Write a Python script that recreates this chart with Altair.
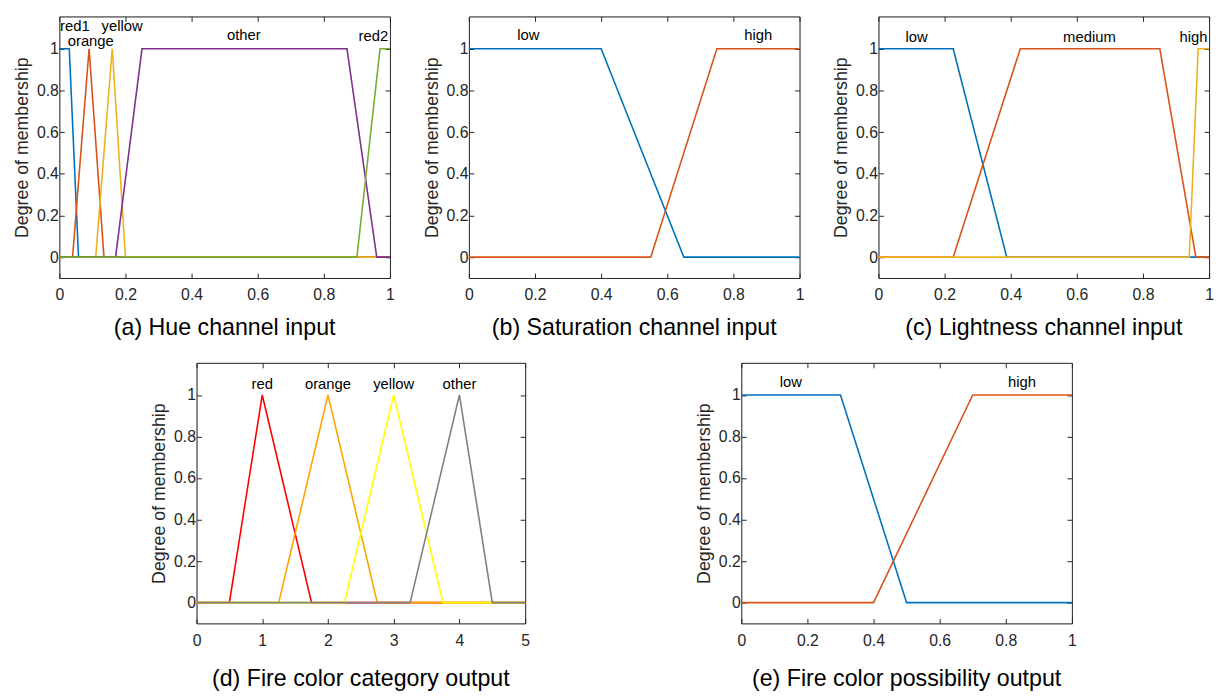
import altair as alt
import pandas as pd

FONT = "Liberation Sans"
INK = "#262626"

# ---------------- data ----------------
# (a) Hue channel input
hue_names = ["red1", "orange", "yellow", "other", "red2"]
hue_colors = ["#0072BD", "#D95319", "#EDB120", "#7E2F8E", "#77AC30"]
hue_x = [
    [0, 0.03, 0.058, 1],
    [0, 0.04, 0.09, 0.135, 1],
    [0, 0.11, 0.16, 0.2, 1],
    [0, 0.17, 0.25, 0.87, 0.96, 1],
    [0, 0.90, 0.97, 1],
]
hue_y = [
    [1, 1, 0, 0],
    [0, 0, 1, 0, 0],
    [0, 0, 1, 0, 0],
    [0, 0, 1, 1, 0, 0],
    [0, 0, 1, 1],
]
hue_lab_x = [0.047, 0.095, 0.19, 0.558, 0.95]
hue_lab_y = [1.085, 1.012, 1.085, 1.04, 1.035]

# (b) Saturation channel input
sat_names = ["low", "high"]
sat_colors = ["#0072BD", "#D95319"]
sat_x = [[0, 0.4, 0.65, 1], [0, 0.55, 0.75, 1]]
sat_y = [[1, 1, 0, 0], [0, 0, 1, 1]]
sat_lab_x = [0.18, 0.875]
sat_lab_y = [1.04, 1.04]

# (c) Lightness channel input
lig_names = ["low", "medium", "high"]
lig_colors = ["#0072BD", "#D95319", "#EDB120"]
lig_x = [[0, 0.226, 0.388, 1], [0, 0.226, 0.429, 0.851, 0.96, 1], [0, 0.94, 0.967, 1]]
lig_y = [[1, 1, 0, 0], [0, 0, 1, 1, 0, 0], [0, 0, 1, 1]]
lig_lab_x = [0.115, 0.638, 0.953]
lig_lab_y = [1.033, 1.033, 1.033]

# (d) Fire color category output
cat_names = ["red", "orange", "yellow", "other"]
cat_colors = ["#FF0000", "#FFA500", "#FFFF00", "#808080"]
cat_x = [[0, 0.5, 1, 1.75, 5], [0, 1.25, 2, 2.75, 5], [0, 2.25, 3, 3.75, 5], [0, 3.25, 4, 4.5, 5]]
cat_y = [[0, 0, 1, 0, 0]] * 4
cat_lab_x = [1, 2, 3, 4]
cat_lab_y = [1.03, 1.03, 1.03, 1.03]

# (e) Fire color possibility output
pos_names = ["low", "high"]
pos_colors = ["#0072BD", "#D95319"]
pos_x = [[0, 0.3, 0.5, 1], [0, 0.4, 0.7, 1]]
pos_y = [[1, 1, 0, 0], [0, 0, 1, 1]]
pos_lab_x = [0.15, 0.849]
pos_lab_y = [1.04, 1.04]

y_ticks = [0, 0.2, 0.4, 0.6, 0.8, 1]
x_ticks_unit = [0, 0.2, 0.4, 0.6, 0.8, 1]
x_ticks_cat = [0, 1, 2, 3, 4, 5]
Y_DOMAIN = [-0.1, 1.155]

INWARD = {"expr": "-5"}


def panel(names, colors, xs, ys, lab_x, lab_y, xdom, xticks, caption, w, h, cap_off):
    xscale = alt.Scale(domain=xdom, nice=False, zero=False)
    yscale = alt.Scale(domain=Y_DOMAIN, nice=False, zero=False)
    xaxis = alt.Axis(values=xticks, title=None, grid=False, tickSize=INWARD,
                     labelPadding=14, labelFontSize=16, labelFont=FONT,
                     labelColor=INK, domainColor=INK, tickColor=INK,
                     labelFlush=False, format="~g")
    yaxis = alt.Axis(values=y_ticks, title="Degree of membership", grid=False,
                     tickSize=INWARD, labelPadding=6, labelFontSize=16,
                     labelFont=FONT, labelColor=INK, domainColor=INK,
                     tickColor=INK, titleFont=FONT, titleFontSize=18,
                     titleFontWeight="normal", titleColor=INK, titlePadding=5,
                     format="~g")
    layers = []
    for k, (nm, col, xx, yy) in enumerate(zip(names, colors, xs, ys)):
        df = pd.DataFrame({"x": xx, "y": yy, "i": list(range(len(xx)))})
        layers.append(
            alt.Chart(df).mark_line(color=col, strokeWidth=1.6).encode(
                x=alt.X("x:Q", scale=xscale, axis=xaxis if k == 0 else None),
                y=alt.Y("y:Q", scale=yscale, axis=yaxis if k == 0 else None),
                order="i:Q",
            )
        )
    lab_df = pd.DataFrame({"x": lab_x, "y": lab_y, "t": names})
    layers.append(
        alt.Chart(lab_df).mark_text(fontSize=15, font=FONT, color="black",
                                    baseline="alphabetic", align="center").encode(
            x=alt.X("x:Q", scale=xscale, axis=None),
            y=alt.Y("y:Q", scale=yscale, axis=None),
            text="t:N",
        )
    )
    # top / right inward ticks (box axes)
    box_df = pd.DataFrame({"x": [xdom[0], xdom[1]], "y": [0, 1]})
    layers.append(
        alt.Chart(box_df).mark_point(opacity=0).encode(
            x=alt.X("x:Q", scale=xscale,
                    axis=alt.Axis(orient="top", values=xticks, labels=False,
                                  title=None, grid=False, tickSize=INWARD,
                                  domainColor=INK, tickColor=INK)),
            y=alt.Y("y:Q", scale=yscale,
                    axis=alt.Axis(orient="right", values=y_ticks, labels=False,
                                  title=None, grid=False, tickSize=INWARD,
                                  domainColor=INK, tickColor=INK)),
        )
    )
    return alt.layer(*layers).resolve_axis(x="independent", y="independent").properties(
        width=w, height=h,
        title=alt.TitleParams(caption, orient="bottom", fontSize=23.5, font=FONT,
                              fontWeight="normal", color="black", offset=cap_off,
                              anchor="middle"),
    )


W = 335
H1 = 265
H2 = 264
pa = panel(hue_names, hue_colors, hue_x, hue_y, hue_lab_x, hue_lab_y, [0, 1],
           x_ticks_unit, "(a) Hue channel input", W, H1, 14)
pb = panel(sat_names, sat_colors, sat_x, sat_y, sat_lab_x, sat_lab_y, [0, 1],
           x_ticks_unit, "(b) Saturation channel input", W, H1, 14)
pc = panel(lig_names, lig_colors, lig_x, lig_y, lig_lab_x, lig_lab_y, [0, 1],
           x_ticks_unit, "(c) Lightness channel input", W, H1, 14)
pd_ = panel(cat_names, cat_colors, cat_x, cat_y, cat_lab_x, cat_lab_y, [0, 5],
            x_ticks_cat, "(d) Fire color category output", 333, H2, 19)
pe = panel(pos_names, pos_colors, pos_x, pos_y, pos_lab_x, pos_lab_y, [0, 1],
           x_ticks_unit, "(e) Fire color possibility output", W, H2, 19)

top = alt.hconcat(pa, pb, pc, spacing=28)
bottom = alt.hconcat(pd_, pe, spacing=167)

chart = alt.vconcat(top, bottom, spacing=22, center=True).properties(
    padding={"left": 5, "top": 3, "right": 0, "bottom": 0}
).configure_view(stroke=INK, strokeWidth=1).configure(background="white")

chart.save("out.html", embed_options={"renderer": "svg", "actions": False})
